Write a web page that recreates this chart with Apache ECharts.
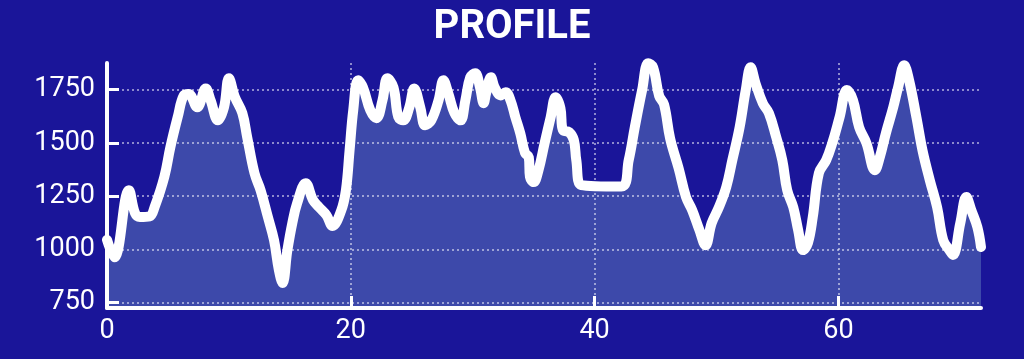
<!DOCTYPE html>
<html>
<head>
<meta charset="utf-8">
<script src="https://cdn.jsdelivr.net/npm/echarts@6/dist/echarts.min.js"></script>
<style>
html,body{margin:0;padding:0;background:#1a1599;}
#chart{width:1024px;height:359px;}
</style>
</head>
<body>
<div id="chart"></div>
<script>
const chartTitle = 'PROFILE';
const distKm = [0.0,0.6,1.8,2.3,2.7,3.5,3.9,4.7,5.2,5.8,6.3,6.7,7.4,8.1,8.5,9.1,9.6,10.0,10.5,11.1,11.5,12.1,12.6,13.2,13.7,14.1,14.4,14.8,15.2,15.6,16.3,16.9,17.4,18.0,18.5,19.2,19.6,19.9,20.2,20.6,21.0,21.6,22.1,22.6,23.0,23.5,23.9,24.3,24.8,25.2,25.7,26.1,26.6,27.2,27.6,28.0,28.5,29.0,29.4,29.8,30.2,30.6,30.9,31.1,31.5,31.8,32.3,32.7,33.1,33.5,33.9,34.3,34.6,34.7,35.0,35.4,35.9,36.4,36.8,37.2,37.4,37.9,38.3,38.5,38.9,42.2,42.8,43.3,43.9,44.4,44.8,45.3,45.7,46.2,46.9,47.5,48.0,48.6,49.1,49.6,50.2,50.8,51.3,51.9,52.4,52.8,53.2,53.8,54.3,54.9,55.4,55.8,56.3,56.7,57.1,57.5,57.9,58.4,59.0,59.5,60.1,60.7,61.2,61.7,62.3,63.0,63.4,63.9,64.5,64.9,65.4,65.8,66.4,66.9,67.5,68.1,68.6,69.1,69.4,70.0,70.5,70.9,71.4,71.7];
const elevation = [1045,963,1278,1170,1152,1155,1198,1340,1480,1621,1723,1730,1667,1755,1700,1606,1667,1803,1714,1640,1527,1358,1278,1152,1044,903,842,997,1123,1217,1311,1232,1198,1161,1110,1180,1278,1465,1653,1794,1761,1653,1616,1700,1803,1761,1621,1606,1667,1755,1667,1583,1606,1700,1794,1733,1640,1606,1700,1808,1827,1761,1686,1733,1808,1761,1723,1738,1700,1621,1546,1452,1433,1340,1316,1372,1499,1621,1714,1662,1560,1551,1513,1419,1302,1295,1419,1574,1748,1874,1855,1720,1680,1520,1380,1246,1185,1091,1020,1123,1198,1292,1419,1574,1748,1855,1780,1686,1640,1527,1419,1278,1198,1091,997,1030,1152,1358,1419,1499,1621,1748,1700,1574,1499,1372,1433,1546,1667,1761,1864,1794,1621,1465,1325,1198,1044,997,974,1123,1246,1185,1105,1011];
const yTicks = [750,1000,1250,1500,1750];
const xTicks = [0,20,40,60];

const points = distKm.map((d,i)=>[d, elevation[i]]);
const chart = echarts.init(document.getElementById('chart'), null, {renderer:'canvas'});
const gridLine = {show:true, lineStyle:{color:'rgba(255,255,255,0.5)', type:[2,3], width:2}};
chart.setOption({
  backgroundColor:'#1a1599',
  animation:false,
  title:{text:chartTitle, left:'center', top:3,
    textStyle:{color:'#ffffff', fontSize:40, fontWeight:'bold', fontFamily:'Roboto'}},
  grid:{left:107, right:43, top:63, bottom:51},
  xAxis:{type:'value', min:0, max:71.7, z:5,
    axisLine:{show:true, lineStyle:{color:'#ffffff', width:4}},
    axisTick:{show:true, inside:true, length:12, customValues:xTicks, lineStyle:{color:'#ffffff', width:3}},
    axisLabel:{color:'#ffffff', fontSize:27, fontFamily:'Roboto', margin:10, customValues:xTicks,
      formatter:v=>String(v)},
    splitLine:gridLine},
  yAxis:{type:'value', min:725, max:1875, z:5,
    axisLine:{show:true, lineStyle:{color:'#ffffff', width:4}},
    axisTick:{show:true, inside:true, length:12, customValues:yTicks, lineStyle:{color:'#ffffff', width:3}},
    axisLabel:{color:'#ffffff', fontSize:27, fontFamily:'Roboto', margin:12, customValues:yTicks,
      formatter:v=>String(v)},
    splitLine:gridLine},
  series:[{type:'line', data:points, smooth:0.4, showSymbol:false, symbol:'none',
    lineStyle:{color:'#ffffff', width:10, cap:'round', join:'round'},
    areaStyle:{color:'#3d49aa', opacity:1, origin:'start'},
    z:2}]
});
</script>
</body>
</html>
